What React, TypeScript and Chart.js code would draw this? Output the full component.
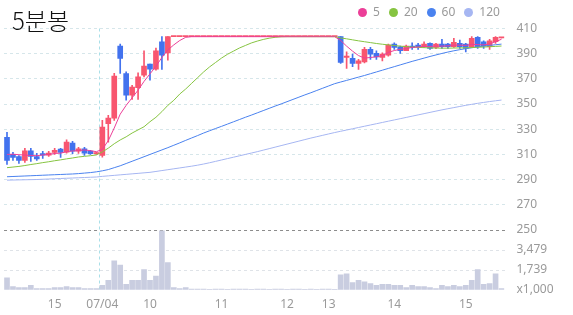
import React, { useEffect, useRef } from 'react';
import { Chart, registerables } from 'chart.js';
Chart.register(...registerables);

// ---- data ----
const labelIdx = [8, 16, 24, 36, 47, 54, 65, 77];
const labelText = ['15', '07/04', '10', '11', '12', '13', '14', '15'];

const openP = [
  323.5, 310.0, 308.4, 305.2, 312.8, 308.4, 310.6, 309.5, 311.6, 314.2,
  311.8, 319.0, 312.6, 314.5, 312.6, 310.6, 309.2, 334.5, 338.9, 396.1,
  374.3, 357.0, 363.1, 372.9, 381.7, 377.7, 399.5, 390.7, 403.5, 403.5,
  403.5, 403.5, 403.5, 403.5, 403.5, 403.5, 403.5, 403.5, 403.5, 403.5,
  403.5, 403.5, 403.5, 403.5, 403.5, 403.5, 403.5, 403.5, 403.5, 403.5,
  403.5, 403.5, 403.5, 403.5, 403.5, 403.5, 403.5, 387.1, 386.3, 382.3,
  383.5, 393.4, 390.2, 387.1, 388.9, 397.6, 395.5, 392.3, 396.1, 396.9,
  395.5, 398.2, 395.0, 397.6, 397.6, 395.5, 398.2, 397.6, 395.5, 403.0,
  399.5, 395.5, 399.5, 402.5,
];
const closeP = [
  305.2, 307.6, 305.2, 312.8, 308.4, 306.4, 309.5, 311.0, 313.2, 311.6,
  319.8, 312.6, 314.5, 311.0, 310.6, 311.0, 331.8, 338.9, 372.2, 386.3,
  357.0, 363.4, 371.6, 380.1, 377.7, 392.3, 388.9, 403.5, 403.5, 403.5,
  403.5, 403.5, 403.5, 403.5, 403.5, 403.5, 403.5, 403.5, 403.5, 403.5,
  403.5, 403.5, 403.5, 403.5, 403.5, 403.5, 403.5, 403.5, 403.5, 403.5,
  403.5, 403.5, 403.5, 403.5, 403.5, 403.5, 383.1, 388.1, 382.3, 384.3,
  393.4, 389.7, 387.5, 389.7, 396.9, 395.0, 392.3, 396.1, 395.0, 395.5,
  397.6, 394.2, 397.6, 395.5, 395.5, 399.0, 395.5, 394.2, 402.2, 395.5,
  396.1, 400.3, 403.0, 402.5,
];
const highP = [
  327.5, 311.6, 309.2, 314.8, 314.8, 310.8, 312.4, 312.4, 314.8, 314.8,
  321.7, 320.4, 315.6, 315.6, 313.2, 311.6, 337.1, 341.1, 374.5, 397.6,
  375.6, 364.9, 374.8, 392.3, 381.7, 394.5, 403.5, 403.5, 403.5, 403.5,
  403.5, 403.5, 403.5, 403.5, 403.5, 403.5, 403.5, 403.5, 403.5, 403.5,
  403.5, 403.5, 403.5, 403.5, 403.5, 403.5, 403.5, 403.5, 403.5, 403.5,
  403.5, 403.5, 403.5, 403.5, 403.5, 403.5, 403.5, 391.5, 389.7, 385.5,
  395.0, 395.0, 392.3, 390.7, 397.6, 398.7, 396.1, 396.9, 398.7, 398.2,
  399.5, 398.7, 398.2, 401.4, 398.2, 402.2, 400.8, 398.2, 403.5, 403.5,
  400.3, 401.4, 403.5, 402.5,
];
const lowP = [
  302.0, 305.2, 302.8, 303.6, 304.4, 305.2, 306.8, 308.4, 310.0, 307.6,
  311.0, 310.6, 310.8, 309.2, 310.0, 310.0, 307.9, 319.8, 337.1, 374.3,
  353.0, 353.6, 353.6, 371.6, 369.0, 376.9, 377.5, 384.9, 403.5, 403.5,
  403.5, 403.5, 403.5, 403.5, 403.5, 403.5, 403.5, 403.5, 403.5, 403.5,
  403.5, 403.5, 403.5, 403.5, 403.5, 403.5, 403.5, 403.5, 403.5, 403.5,
  403.5, 403.5, 403.5, 403.5, 403.5, 403.5, 382.3, 378.3, 379.6, 377.5,
  382.7, 385.5, 385.5, 384.3, 388.1, 393.4, 390.2, 392.3, 393.4, 393.4,
  395.0, 393.4, 393.9, 394.2, 394.2, 395.0, 394.2, 391.5, 395.0, 394.2,
  394.2, 393.4, 398.2, 402.5,
];
// volume, in thousands
const volume = [
  1060, 300, 210, 210, 400, 120, 120, 120, 210, 210,
  300, 210, 210, 120, 120, 120, 400, 850, 2530, 2160,
  490, 850, 850, 1770, 850, 1220, 5150, 2380, 210, 120,
  210, 90, 70, 80, 60, 90, 70, 60, 80, 70,
  90, 60, 70, 80, 60, 70, 90, 60, 70, 80,
  60, 70, 60, 80, 70, 60, 1310, 1400, 640, 850,
  700, 550, 400, 490, 490, 400, 400, 210, 400, 300,
  300, 210, 120, 400, 300, 400, 300, 400, 850, 1770,
  490, 550, 1400, 120,
];
const ma5 = [
  310.0, 310.2, 309.8, 309.5, 309.2, 309.0, 309.6, 310.0, 310.8, 311.0,
  312.2, 312.8, 313.0, 313.6, 313.0, 312.2, 314.0, 321.0, 331.0, 342.0,
  349.0, 355.0, 361.0, 368.0, 374.0, 380.0, 387.0, 393.0, 397.0, 400.5,
  403.0, 403.5, 403.5, 403.5, 403.5, 403.5, 403.5, 403.5, 403.5, 403.5,
  403.5, 403.5, 403.5, 403.5, 403.5, 403.5, 403.5, 403.5, 403.5, 403.5,
  403.5, 403.5, 403.5, 403.5, 403.5, 403.5, 400.5, 396.0, 392.0, 388.5,
  386.5, 387.0, 387.5, 388.5, 391.0, 392.5, 393.5, 394.0, 395.0, 395.3,
  395.8, 395.8, 396.0, 396.0, 396.2, 396.8, 396.8, 396.6, 397.4, 397.2,
  397.0, 397.8, 399.5, 401.5,
];
const ma20 = [
  299.5, 300.0, 300.5, 301.2, 302.0, 302.7, 303.5, 304.2, 305.0, 305.7,
  306.5, 307.2, 308.0, 308.5, 309.0, 309.6, 312.0, 315.0, 318.5, 321.5,
  324.0, 327.0, 329.5, 332.0, 336.0, 339.5, 344.0, 349.0, 353.0, 358.0,
  362.0, 366.5, 371.0, 375.5, 379.5, 383.0, 386.5, 389.5, 392.0, 394.5,
  396.5, 398.5, 400.0, 401.3, 402.3, 403.0, 403.4, 403.5, 403.5, 403.5,
  403.5, 403.5, 403.5, 403.5, 403.5, 403.5, 402.5, 401.8, 401.0, 400.2,
  399.5, 398.8, 398.1, 397.5, 397.0, 396.5, 396.0, 395.6, 395.3, 395.0,
  394.8, 394.6, 394.5, 394.4, 394.4, 394.5, 394.6, 394.7, 394.9, 395.1,
  395.3, 395.5, 395.8, 396.1,
];
const ma60 = [
  292.3, 292.5, 292.7, 292.9, 293.1, 293.3, 293.5, 293.7, 293.9, 294.1,
  294.3, 294.5, 294.8, 295.2, 295.6, 296.2, 297.0, 298.0, 299.5, 301.0,
  302.8, 304.6, 306.4, 308.2, 310.0, 311.8, 313.6, 315.4, 317.3, 319.2,
  321.2, 323.1, 325.0, 327.0, 328.8, 330.6, 332.3, 334.1, 335.9, 337.7,
  339.5, 341.2, 343.0, 344.8, 346.6, 348.4, 350.1, 351.9, 353.7, 355.5,
  357.3, 359.0, 360.8, 362.6, 364.4, 366.2, 367.5, 368.8, 370.1, 371.4,
  372.7, 374.1, 375.5, 376.9, 378.3, 379.7, 381.1, 382.5, 383.9, 385.2,
  386.5, 387.8, 389.0, 390.2, 391.3, 392.3, 393.2, 394.0, 394.7, 395.4,
  396.0, 396.6, 397.1, 397.6,
];
const ma120 = [
  289.6, 289.7, 289.8, 289.9, 290.0, 290.1, 290.3, 290.5, 290.7, 290.9,
  291.1, 291.3, 291.5, 291.7, 291.9, 292.1, 292.6, 293.0, 293.4, 293.8,
  294.2, 294.6, 295.0, 295.4, 295.8, 296.5, 297.2, 297.9, 298.6, 299.3,
  300.0, 300.7, 301.5, 302.4, 303.4, 304.5, 305.6, 306.7, 307.8, 308.9,
  310.0, 311.1, 312.2, 313.4, 314.6, 315.8, 317.0, 318.2, 319.4, 320.6,
  321.8, 323.0, 324.1, 325.2, 326.3, 327.4, 328.4, 329.4, 330.4, 331.4,
  332.4, 333.4, 334.4, 335.4, 336.4, 337.4, 338.4, 339.4, 340.4, 341.4,
  342.4, 343.4, 344.4, 345.4, 346.3, 347.2, 348.1, 349.0, 349.8, 350.6,
  351.3, 352.0, 352.6, 353.2,
];
const priceTicksMin = 250;
const priceTicksMax = 410;
const priceStep = 20;
const volTicks = [0, 1739, 3479];
const volMax = 5218;

const maNames = ['5', '20', '60', '120'];
const maColors = ['#ec3f98', '#86c441', '#4a82ef', '#a6b6f2'];
const RED = '#f8566f';
const BLUE = '#4272ee';

const categories = openP.map((_, i) => {
  const k = labelIdx.indexOf(i);
  return k >= 0 ? labelText[k] : '';
});

export default function App() {
  const ref = useRef<HTMLCanvasElement>(null);
  useEffect(() => {
    const canvas = ref.current!;
    Chart.defaults.font.family = "'Noto Sans', sans-serif";
    Chart.defaults.font.size = 12;
    const candleColors = openP.map((o, i) => (closeP[i] >= o ? RED : BLUE));
    const maSeries = [ma5, ma20, ma60, ma120];
    const chart = new Chart(canvas, {
      type: 'bar',
      data: {
        labels: categories,
        datasets: [
          ...maSeries.map((s, k) => ({
            type: 'line' as const,
            label: maNames[k],
            data: s,
            yAxisID: 'y',
            borderColor: maColors[k],
            borderWidth: 1,
            pointRadius: 0,
            tension: 0,
            fill: false,
          })),
          {
            type: 'bar' as const,
            label: 'body',
            data: openP.map((o, i) => [o, closeP[i]]),
            yAxisID: 'y',
            backgroundColor: candleColors,
            barThickness: 5,
            minBarLength: 1,
            grouped: false,
          },
          {
            type: 'bar' as const,
            label: 'wick',
            data: lowP.map((l, i) => [l, highP[i]]),
            yAxisID: 'y',
            backgroundColor: candleColors,
            barThickness: 1,
            grouped: false,
          },
          {
            type: 'bar' as const,
            label: 'volume',
            data: volume,
            yAxisID: 'yv',
            backgroundColor: '#c9cde0',
            barThickness: 5,
            grouped: false,
          },
        ],
      },
      options: {
        responsive: false,
        animation: false,
        layout: { padding: { left: -0.5, top: 28.5, right: 0, bottom: 0 } },
        plugins: { legend: { display: false }, tooltip: { enabled: false } },
        scales: {
          x: {
            offset: true,
            grid: {
              offset: true,
              drawTicks: false,
              color: (c: any) => (c.index === labelIdx[1] ? '#a9dfe8' : 'rgba(0,0,0,0)'),
            },
            border: { display: false, dash: [3, 3] },
            ticks: {
              autoSkip: false,
              maxRotation: 0,
              padding: 7,
              color: '#9a9a9a',
              font: { size: 12 },
              callback: (_v: any, i: number) => categories[i],
            },
            afterFit: (s: any) => { s.height = 25; },
          },
          y: {
            position: 'right',
            stack: 'main',
            stackWeight: 3.36,
            weight: 1,
            min: priceTicksMin,
            max: priceTicksMax,
            ticks: { stepSize: priceStep, autoSkip: false, padding: 12, color: '#9a9a9a', font: { size: 12 } },
            grid: {
              drawTicks: false,
              color: (c: any) => (c.tick && c.tick.value === priceTicksMin ? '#8c8c8c' : '#d6e6ea'),
            },
            border: { display: false, dash: [3, 3] },
            afterFit: (s: any) => { s.width = 68.5; },
          },
          yv: {
            position: 'right',
            stack: 'main',
            stackWeight: 1,
            weight: 2,
            min: 0,
            max: volMax,
            afterBuildTicks: (s: any) => { s.ticks = volTicks.map((v) => ({ value: v })); },
            ticks: {
              autoSkip: false,
              padding: 12,
              color: '#9a9a9a',
              font: { size: 12 },
              callback: (v: any) => (v === 0 ? 'x1,000' : Number(v).toLocaleString('en-US')),
            },
            grid: {
              drawTicks: false,
              color: (c: any) => (c.tick && c.tick.value === 0 ? 'rgba(0,0,0,0)' : '#dfe3e8'),
            },
            border: { display: false, dash: [3, 3] },
            afterFit: (s: any) => { s.width = 68.5; },
          },
        },
      },
    } as any);
    return () => chart.destroy();
  }, []);

  return (
    <div style={{ position: 'fixed', left: 0, top: 0, width: 573, height: 315, background: '#fff', overflow: 'hidden' }}>
      <canvas ref={ref} width={573} height={315} style={{ width: 573, height: 315, display: 'block' }} />
      <div
        style={{
          position: 'absolute', left: 12, top: 8, fontSize: 24, lineHeight: '24px',
          fontFamily: "'Noto Sans CJK KR', sans-serif", color: '#111', fontWeight: 200,
        }}
      >
        5분봉
      </div>
      <div
        style={{
          position: 'absolute', left: 358, top: 4, height: 16, display: 'flex', alignItems: 'center',
          fontFamily: "'Noto Sans', sans-serif", fontSize: 12, color: '#9a9a9a', lineHeight: '16px',
        }}
      >
        {maNames.map((n, k) => (
          <div key={n} style={{ display: 'flex', alignItems: 'center', marginRight: 9 }}>
            <span style={{ width: 9, height: 9, borderRadius: '50%', background: maColors[k], marginRight: 6, display: 'inline-block' }} />
            <span>{n}</span>
          </div>
        ))}
      </div>
    </div>
  );
}
